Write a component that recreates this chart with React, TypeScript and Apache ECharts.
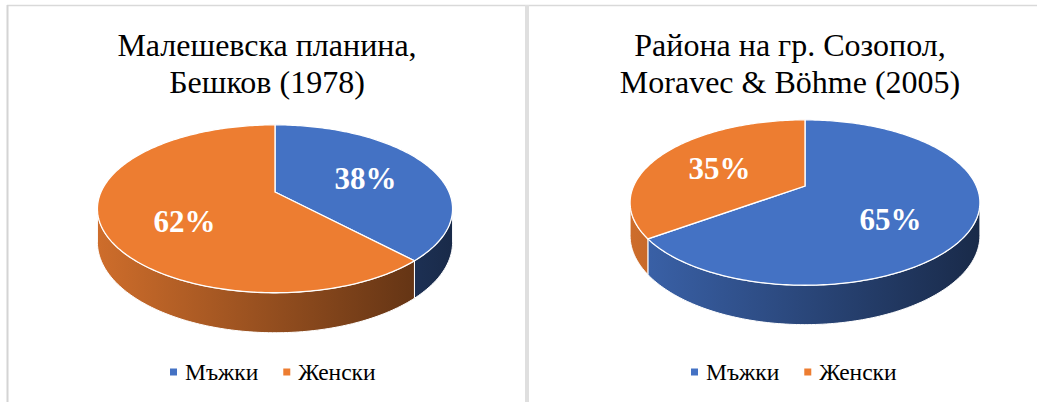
import React, { useEffect, useRef } from 'react';
import * as echarts from 'echarts';

// ---- data ----
const categories = ['Мъжки', 'Женски'];
const titles = ['Малешевска планина,\nБешков (1978)', 'Района на гр. Созопол,\nMoravec & Böhme (2005)'];
const pie1Values = [38, 62];
const pie2Values = [65, 35];
const sliceColors = ['#4472C4', '#ED7D31'];

// ---- layout / style ----
const FONT = "'Times New Roman', 'Liberation Serif', serif";
const pies = [
  { values: pie1Values, cx: 275, cy: 192, s: 1, titleX: 267, legendX: 170 },
  { values: pie2Values, cx: 805, cy: 186, s: 0.985, titleX: 790, legendX: 691 },
];
const K = 0.2; // perspective strength
const R = 174; // horizontal radius
const RY = 80.6; // vertical radius
const H = 32; // depth
const VIS = (Math.asin(K) * 180) / Math.PI;
const LABEL_FX = 0.56;
const LABEL_FY = 0.71;
const LABEL_DY = 8;

function shade(hex: string, f: number) {
  const n = parseInt(hex.slice(1), 16);
  const r = Math.round(((n >> 16) & 255) * f);
  const g = Math.round(((n >> 8) & 255) * f);
  const b = Math.round((n & 255) * f);
  return `rgb(${r},${g},${b})`;
}

function proj(p: any, f: number, deg: number) {
  const t = (deg * Math.PI) / 180;
  const u = Math.sin(t);
  const v = Math.cos(t);
  const w = 1 + K * f * v;
  return [p.cx + (p.s * R * f * u) / w, p.cy - (p.s * RY * f * v) / w, w];
}

function arc(p: any, a0: number, a1: number) {
  const pts: number[][] = [];
  const n = Math.max(2, Math.ceil(a1 - a0));
  for (let i = 0; i <= n; i++) pts.push(proj(p, 1, a0 + ((a1 - a0) * i) / n));
  return pts;
}

function makeRender(pi: number, si: number) {
  return function (params: any, api: any) {
    const p = pies[pi];
    const vals = p.values;
    const total = vals.reduce((a, b) => a + b, 0);
    let before = 0;
    for (let i = 0; i < si; i++) before += vals[i];
    const val = api.value(0);
    const start = (before / total) * 360;
    const end = ((before + val) / total) * 360;
    const color = sliceColors[si];
    const children: any[] = [];

    // side (front visible part)
    const s0 = Math.max(start, 90 + VIS);
    const s1 = Math.min(end, 270 - VIS);
    if (s1 > s0) {
      const topPts = arc(p, s0, s1);
      const botPts = topPts.map((q) => [q[0], q[1] + (p.s * H) / q[2]]).reverse();
      const pts = topPts.map((q) => [q[0], q[1]]).concat(botPts);
      const grad = new echarts.graphic.LinearGradient(
        p.cx - p.s * R * 1.02, 0, p.cx + p.s * R * 1.02, 0,
        [
          { offset: 0, color: shade(color, 0.87) },
          { offset: 1, color: shade(color, 0.37) },
        ],
        true
      );
      children.push({
        type: 'polygon',
        z2: 1,
        shape: { points: pts },
        style: { fill: grad, stroke: '#ffffff', lineWidth: 1 },
      });
    }

    // top face
    const top = [[p.cx, p.cy]].concat(arc(p, start, end).map((q) => [q[0], q[1]]));
    children.push({
      type: 'polygon',
      z2: 10,
      shape: { points: top },
      style: { fill: color, stroke: '#ffffff', lineWidth: 1.3 },
    });

    // label
    const mid = ((start + end) / 2) * Math.PI / 180;
    const lx = p.cx + p.s * R * LABEL_FX * Math.sin(mid);
    const ly = p.cy - p.s * RY * LABEL_FY * Math.cos(mid) + LABEL_DY;
    children.push({
      type: 'text',
      z2: 20,
      style: {
        text: Math.round((val / total) * 100) + '%',
        x: lx,
        y: ly,
        fill: '#ffffff',
        font: `bold 31px ${FONT}`,
        align: 'center',
        verticalAlign: 'middle',
        textAlign: 'center',
        textVerticalAlign: 'middle',
      },
    });
    return { type: 'group', children };
  };
}

export default function App() {
  const ref = useRef<HTMLDivElement>(null);
  useEffect(() => {
    document.body.style.margin = '0';
    const chart = echarts.init(ref.current!, undefined, { renderer: 'svg' });
    const series: any[] = [];
    pies.forEach((p, pi) => {
      p.values.forEach((v, si) => {
        series.push({
          type: 'custom',
          name: categories[si],
          coordinateSystem: 'none',
          itemStyle: { color: sliceColors[si] },
          data: [[v]],
          renderItem: makeRender(pi, si),
          silent: true,
        });
      });
    });
    chart.setOption({
      animation: false,
      backgroundColor: '#ffffff',
      graphic: [
        { type: 'line', shape: { x1: 7, y1: 5.5, x2: 1037, y2: 5.5 }, style: { stroke: '#d9d9d9', lineWidth: 1.5 } },
        { type: 'line', shape: { x1: 7.5, y1: 5, x2: 7.5, y2: 402 }, style: { stroke: '#d4d4d4', lineWidth: 2 } },
        { type: 'rect', shape: { x: 525, y: 5, width: 4, height: 397 }, style: { fill: '#dfdfdf' } },
        ...pies.map((p, i) => ({
          type: 'text',
          x: p.titleX,
          y: 26,
          style: {
            text: titles[i],
            font: `32px ${FONT}`,
            lineHeight: 37,
            fill: '#000000',
            align: 'center',
            verticalAlign: 'top',
            textAlign: 'center',
            textVerticalAlign: 'top',
          },
        })),
      ],
      legend: pies.map((p) => ({
        data: categories,
        left: p.legendX,
        top: 360,
        orient: 'horizontal',
        icon: 'rect',
        itemWidth: 7,
        itemHeight: 7,
        itemGap: 25,
        padding: 0,
        selectedMode: false,
        textStyle: { fontSize: 23.5, color: '#000000', fontFamily: FONT, padding: [0, 0, 0, 3] },
      })),
      series,
    });
    return () => chart.dispose();
  }, []);
  return <div ref={ref} style={{ width: 1037, height: 402 }} />;
}
